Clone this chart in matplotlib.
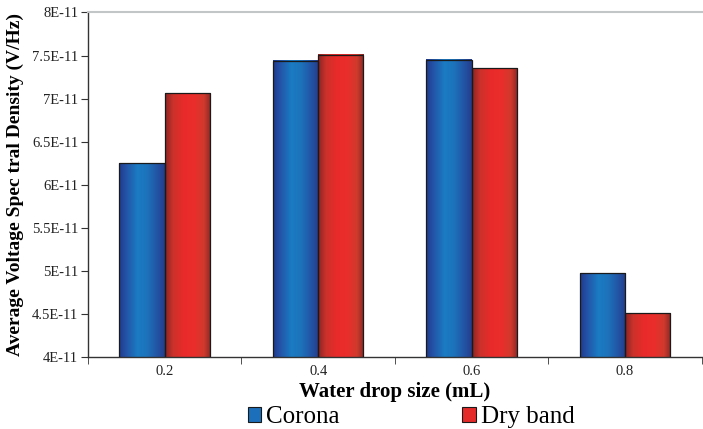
import numpy as np
import matplotlib
matplotlib.use("Agg")
import matplotlib.pyplot as plt
from matplotlib.colors import LinearSegmentedColormap
from matplotlib.patches import Patch

plt.rcParams['font.family'] = ['Liberation Serif', 'DejaVu Serif']

# data
drop_sizes = ['0.2', '0.4', '0.6', '0.8']
corona = [6.25e-11, 7.44e-11, 7.45e-11, 4.97e-11]
dry_band = [7.06e-11, 7.51e-11, 7.35e-11, 4.51e-11]
y_ticks = [4e-11, 4.5e-11, 5e-11, 5.5e-11, 6e-11, 6.5e-11, 7e-11, 7.5e-11, 8e-11]
y_tick_labels = ['4E-11', '4.5E-11', '5E-11', '5.5E-11', '6E-11',
                 '6.5E-11', '7E-11', '7.5E-11', '8E-11']

blue_cmap = LinearSegmentedColormap.from_list('blue_bar', [
    (0.0, '#1f3a8c'), (0.15, '#2452a6'), (0.4, '#1a7bc3'),
    (0.6, '#1c74bc'), (0.82, '#2256a6'), (1.0, '#253d8c')])
red_cmap = LinearSegmentedColormap.from_list('red_bar', [
    (0.0, '#8a2624'), (0.18, '#cc322b'), (0.42, '#ea2a2a'),
    (0.65, '#e92e2b'), (0.85, '#cf3a2d'), (1.0, '#8a2826')])

fig = plt.figure(figsize=(7.03, 4.29), dpi=100)
ax = fig.add_axes([0.1252, 0.168, 0.873, 0.803])

x = np.arange(len(drop_sizes))
w = 0.295
grad = np.linspace(0, 1, 256).reshape(1, -1)


def gradient_bars(xs, vals, cmap):
    bars = ax.bar(xs, vals, w, bottom=0, facecolor='none',
                  edgecolor='#1a1a1a', linewidth=0.9, zorder=3)
    for b in bars:
        x0 = b.get_x()
        ax.imshow(grad, cmap=cmap, aspect='auto', zorder=2,
                  extent=[x0, x0 + b.get_width(), 0, b.get_height()])
    return bars


gradient_bars(x - w / 2, corona, blue_cmap)
gradient_bars(x + w / 2, dry_band, red_cmap)

ax.set_xlim(-0.5, 3.5)
ax.set_ylim(4e-11, 8e-11)

ax.set_yticks(y_ticks)
ax.set_yticklabels(y_tick_labels)
ax.set_xticks(x)
ax.set_xticklabels(drop_sizes)
ax.set_xticks(np.arange(-0.5, 4, 1), minor=True)
ax.tick_params(axis='x', which='major', length=0, pad=6, labelsize=10.5,
               labelcolor='#222222')
ax.tick_params(axis='x', which='minor', length=5, color='#333333')
ax.tick_params(axis='y', length=5, color='#333333', pad=2, labelsize=10.5,
               labelcolor='#222222')

ax.spines['right'].set_visible(False)
ax.spines['top'].set_color('#c2c6c6')
ax.spines['top'].set_linewidth(1.5)
for s in ['left', 'bottom']:
    ax.spines[s].set_color('#333333')
    ax.spines[s].set_linewidth(1.0)

ax.set_xlabel('Water drop size (mL)', fontsize=15, fontweight='bold', labelpad=3)
ax.set_ylabel('Average Voltage Spec tral Density (V/Hz)', fontsize=14,
              fontweight='bold', labelpad=6)

handles = [Patch(facecolor='#1c6fba', edgecolor='#1a1a1a', linewidth=0.8),
           Patch(facecolor='#e52b2a', edgecolor='#1a1a1a', linewidth=0.8)]
fig.legend(handles, ['Corona', 'Dry band'], loc='center', ncol=2,
           bbox_to_anchor=(0.585, 0.028), frameon=False, fontsize=18,
           handlelength=0.55, handleheight=0.55, handletextpad=0.2,
           columnspacing=4.9, borderpad=0)

fig.savefig('out.png', dpi=100)
